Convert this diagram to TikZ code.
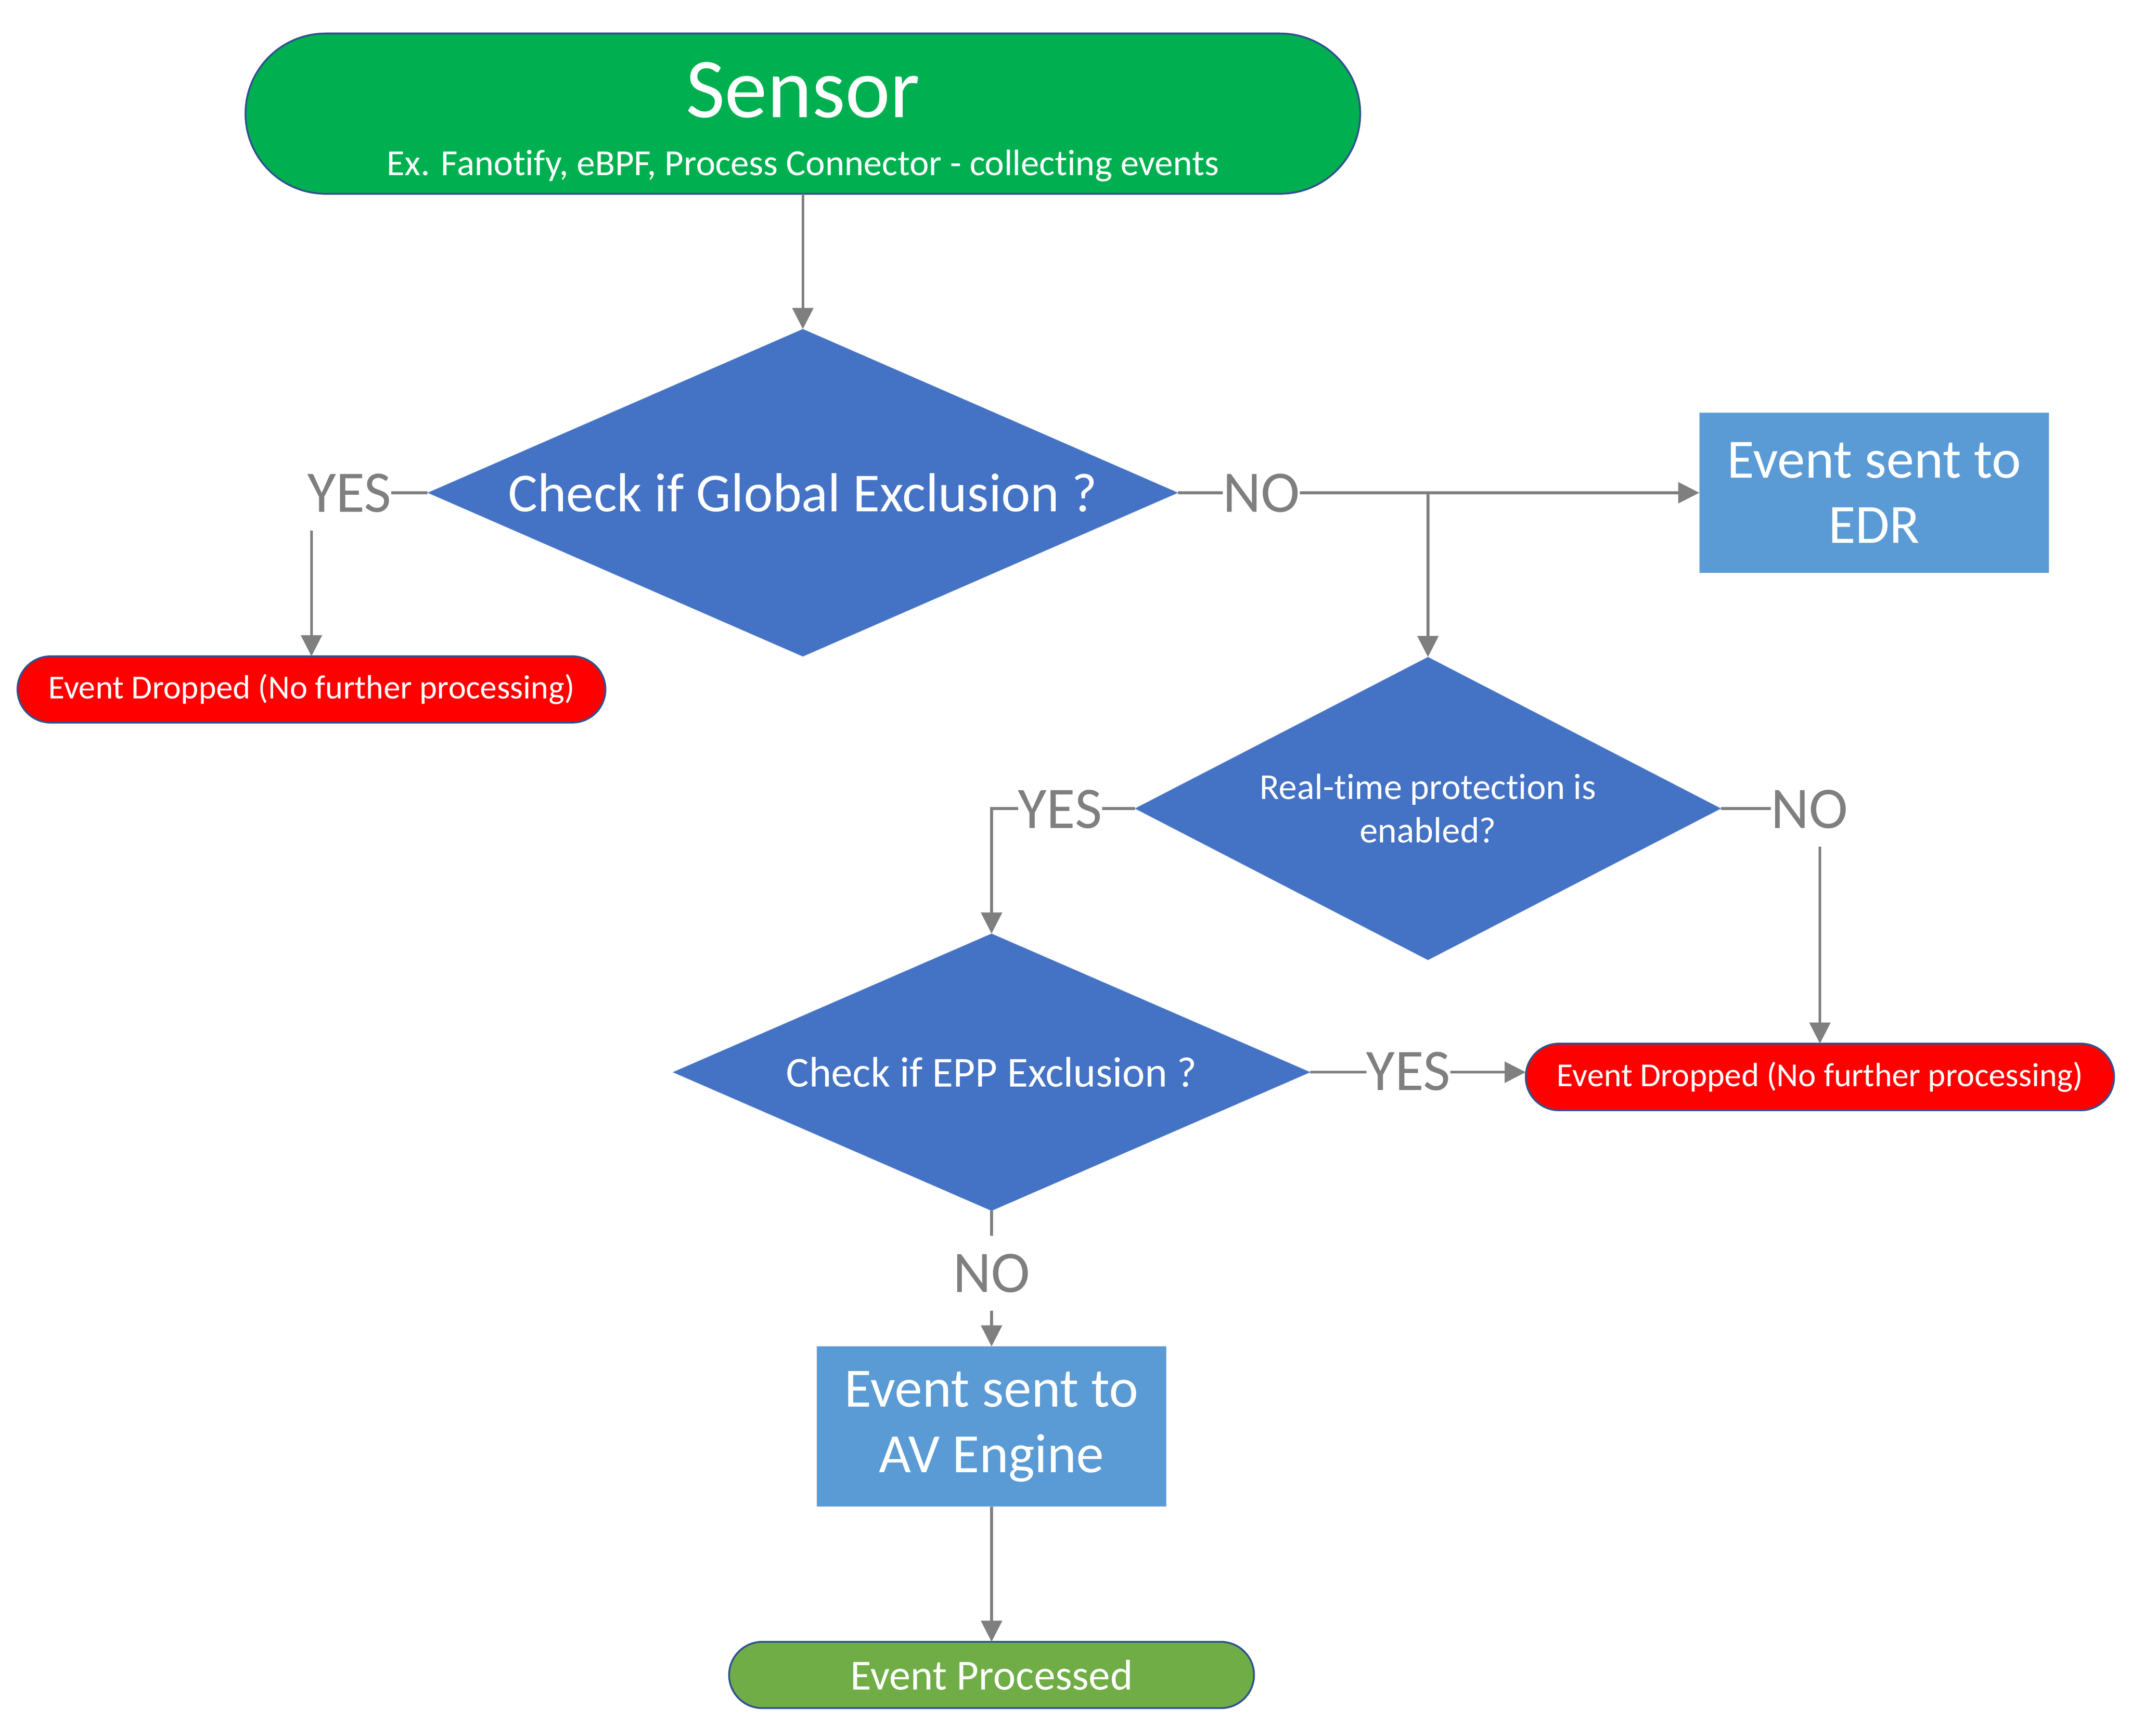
\documentclass[tikz,border=0pt]{standalone}
\usepackage{fontspec}
\setmainfont{Carlito}[Ligatures=NoCommon]
\usetikzlibrary{shapes.geometric,arrows.meta}
\definecolor{sensorgreen}{HTML}{00B050}
\definecolor{diamblue}{HTML}{4472C4}
\definecolor{diamedge}{HTML}{8FAADC}
\definecolor{boxblue}{HTML}{5B9BD5}
\definecolor{boxedge}{HTML}{BFC9D6}
\definecolor{dropred}{HTML}{FF0000}
\definecolor{procgreen}{HTML}{70AD47}
\definecolor{pilledge}{HTML}{2F528F}
\definecolor{conngray}{HTML}{7F7F7F}
\tikzset{
  pill/.style={rectangle, rounded corners=#1, draw=pilledge, line width=0.05cm,
    inner sep=0pt, outer sep=0pt, text=white},
  decision/.style={diamond, fill=diamblue, draw=diamedge, line width=0.01cm,
    inner sep=0pt, outer sep=0pt, text=white, align=center},
  procbox/.style={rectangle, fill=boxblue, draw=boxedge, line width=0.012cm,
    inner sep=0pt, outer sep=0pt, text=white, align=center,
    minimum width=9.6cm, minimum height=4.4cm,
    font=\fontsize{43.3}{51}\selectfont},
  conn/.style={draw=conngray, line width=0.075cm,
    -{Triangle[width=0.57cm,length=0.58cm]}},
  lbl/.style={fill=white, text=conngray, inner xsep=0pt, inner ysep=0.5cm,
    font=\fontsize{46}{55}\selectfont},
  droptext/.style={font=\fontsize{26.2}{31}\selectfont}
}
\begin{document}
\begin{tikzpicture}
\useasboundingbox (0,0) rectangle (58.5,-47.66);
% Sensor
\node[pill=2.2cm, fill=sensorgreen, minimum width=30.6cm, minimum height=4.4cm] (sensor) at (22.04,-3.12) {};
\node[text=white, inner sep=0pt, anchor=base, font=\fontsize{66.5}{78}\selectfont] (sensortitle) at (22.04,-3.22) {Sensor};
\node[text=white, inner sep=0pt, anchor=base, font=\fontsize{28.7}{34}\selectfont] (sensorsub) at (22.04,-4.82) {Ex. Fanotify, eBPF, Process Connector - collecting events};
% Decisions
\node[decision, aspect=2.29, minimum width=20.6cm, minimum height=8.99cm,
  font=\fontsize{43}{52}\selectfont] (d1) at (22.04,-13.53) {Check if Global Exclusion ?};
\node[decision, aspect=1.93, minimum width=16.09cm, minimum height=8.32cm,
  font=\fontsize{28.5}{34}\selectfont] (d2) at (39.2,-22.2) {Real-time protection is\\enabled?};
\node[decision, aspect=2.3, minimum width=17.5cm, minimum height=7.61cm,
  font=\fontsize{33.4}{40}\selectfont] (d3) at (27.22,-29.44) {Check if EPP Exclusion ?};
% Terminals
\node[pill=0.91cm, fill=dropred, minimum width=16.14cm, minimum height=1.82cm, droptext] (pill1) at (8.55,-18.93) {Event Dropped (No further processing)};
\node[pill=0.91cm, fill=dropred, minimum width=16.15cm, minimum height=1.83cm, droptext] (pill2) at (49.96,-29.57) {Event Dropped (No further processing)};
\node[pill=0.91cm, fill=procgreen, minimum width=14.41cm, minimum height=1.82cm,
  font=\fontsize{33.5}{40}\selectfont] (proc) at (27.22,-45.99) {Event Processed};
% Process boxes
\node[procbox] (edr) at (51.45,-13.53) {Event sent to\\EDR};
\node[procbox] (av) at (27.22,-39.17) {Event sent to\\AV Engine};
% Connectors
\draw[conn] (sensor.south) -- (d1.north);
\draw[conn] (d1.west) -| (pill1.north);
\draw[conn] (d1.east) -- (edr.west);
\draw[conn] (d1.east) -| (d2.north);
\draw[conn] (d2.west) -| (d3.north);
\draw[conn] (d2.east) -| (pill2.north);
\draw[conn] (d3.east) -- (d3.east -| pill2.west);
\draw[conn] (d3.south) -- (av.north);
\draw[conn] (av.south) -- (proc.north);
% Labels
\node[lbl, anchor=base west] (yes1) at (8.43,-14.06) {YES};
\node[lbl, anchor=base west] (no1) at (33.56,-14.06) {NO};
\node[lbl, anchor=base west] (yes2) at (27.94,-22.74) {YES};
\node[lbl, anchor=base west] (no2) at (48.61,-22.74) {NO};
\node[lbl, anchor=base west] (yes3) at (37.50,-29.94) {YES};
\node[lbl, anchor=base] (no3) at (27.22,-35.48) {NO};
\end{tikzpicture}
\end{document}
